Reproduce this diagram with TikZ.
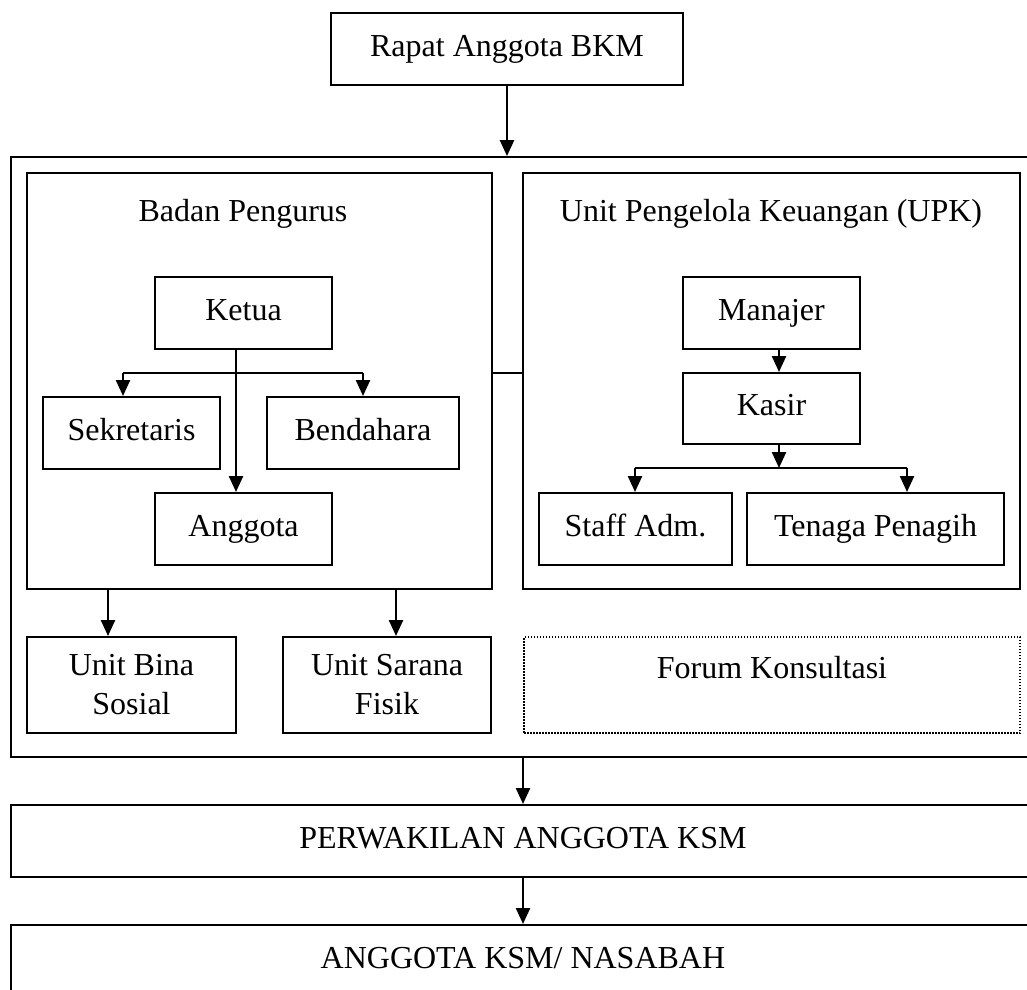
\documentclass[tikz,border=0pt]{standalone}
\usepackage{fontspec}
\setmainfont{Liberation Serif}
\usetikzlibrary{arrows.meta}
\begin{document}
\begin{tikzpicture}[x=1pt,y=-1pt,
  font=\fontsize{32}{39}\selectfont,
  box/.style={draw, line width=2pt, inner sep=0pt, align=center},
  onel/.style={text height=22pt, text depth=8pt},
  dotbox/.style={draw, line width=1.5pt, dash pattern=on 1.5pt off 1.5pt, inner sep=0pt, text height=22pt, text depth=36pt},
  title/.style={inner sep=0pt, anchor=base},
  conn/.style={line width=2.4pt},
  arr/.style={line width=2.4pt, -{Triangle[length=16pt,width=14pt]}}]
\clip (0,0) rectangle (1027,989);
\fill[white] (0,0) rectangle (1027,989);
% top
\node[box, onel, minimum width=352, minimum height=72] (rapat) at (507,49) {Rapat Anggota BKM};
% outer container
\node[box, line width=1.8pt, minimum width=1024, minimum height=600] (outer) at (523,457) {};
% inner containers
\node[box, minimum width=465, minimum height=416] (badan) at (259.5,381) {};
\node[box, minimum width=497, minimum height=416] (upk) at (771.5,381) {};
\node[title] (badantitle) at (243,221) {Badan Pengurus};
\node[title] (upktitle) at (771,221) {Unit Pengelola Keuangan (UPK)};
% Badan Pengurus
\node[box, onel, minimum width=177, minimum height=72] (ketua) at (243.5,313) {Ketua};
\node[box, onel, minimum width=177, minimum height=72] (sekretaris) at (131.5,433) {Sekretaris};
\node[box, onel, minimum width=192, minimum height=72] (bendahara) at (363,433) {Bendahara};
\node[box, onel, minimum width=177, minimum height=72] (anggota) at (243.5,529) {Anggota};
% UPK
\node[box, onel, minimum width=177, minimum height=72] (manajer) at (771.5,313) {Manajer};
\node[box, onel, minimum width=177, minimum height=71] (kasir) at (771.5,408.5) {Kasir};
\node[box, onel, minimum width=193, minimum height=72] (staff) at (635.5,529) {Staff Adm.};
\node[box, onel, minimum width=257, minimum height=72] (tenaga) at (875.5,529) {Tenaga Penagih};
% lower units
\node[box, minimum width=209, minimum height=96] (bina) at (131.5,685) {Unit Bina\\Sosial};
\node[box, minimum width=208, minimum height=96] (sarana) at (387,685) {Unit Sarana\\Fisik};
\node[dotbox, minimum width=496, minimum height=96] (forum) at (772,685) {Forum Konsultasi};
% bottom
\node[box, onel, minimum width=1024, minimum height=72] (perwakilan) at (523,841) {PERWAKILAN ANGGOTA KSM};
\node[box, onel, minimum width=1024, minimum height=72] (nasabah) at (523,961) {ANGGOTA KSM/ NASABAH};
% coordinates
\coordinate (bu) at (0,373);
\coordinate (kv) at (236,373);
\coordinate (ks) at (123,373);
\coordinate (kb) at (363,373);
\coordinate (mk) at (779,0);
\coordinate (kj) at (779,468);
\coordinate (kl) at (635,468);
\coordinate (kr) at (907,468);
\coordinate (bl) at (108,0);
\coordinate (br) at (396,0);
% connectors
\draw[arr] (rapat.south) -- (rapat.south |- outer.north);
\draw[conn] (badan.east |- bu) -- (upk.west |- bu);
\draw[arr] (ketua.south -| kv) -- (anggota.north -| kv);
\draw[conn] (ks) -- (kb);
\draw[arr] (ks) -- (sekretaris.north -| ks);
\draw[arr] (kb) -- (bendahara.north -| kb);
\draw[arr] (manajer.south -| mk) -- (kasir.north -| mk);
\draw[arr] (kasir.south -| mk) -- (kj);
\draw[conn] (kl) -- (kr);
\draw[arr] (kl) -- (staff.north -| kl);
\draw[arr] (kr) -- (tenaga.north -| kr);
\draw[arr] (badan.south -| bl) -- (bina.north -| bl);
\draw[arr] (badan.south -| br) -- (sarana.north -| br);
\draw[arr] (outer.south) -- (perwakilan.north);
\draw[arr] (perwakilan.south) -- (nasabah.north);
\end{tikzpicture}
\end{document}
